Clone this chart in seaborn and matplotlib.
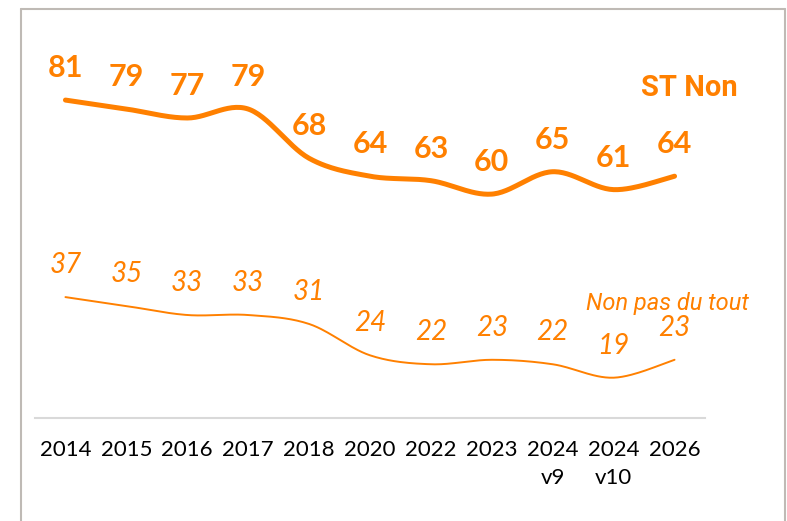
import numpy as np
import pandas as pd
import matplotlib
matplotlib.use("Agg")
import matplotlib.pyplot as plt
import seaborn as sns
from matplotlib.lines import Line2D

years = ["2014", "2015", "2016", "2017", "2018", "2020", "2022", "2023",
         "2024\nv9", "2024\nv10", "2026"]
st_non = [81, 79, 77, 79, 68, 64, 63, 60, 65, 61, 64]
non_pas_du_tout = [37, 35, 33, 33, 31, 24, 22, 23, 22, 19, 23]

ORANGE = "#FF8000"


def smooth(vals, n=30):
    # bezier curve through the points, like excel's "smoothed line"
    pts = np.column_stack([np.arange(len(vals), dtype=float), np.asarray(vals, float)])
    ext = np.vstack([pts[0], pts, pts[-1]])
    t = np.linspace(0, 1, n, endpoint=False)[:, None]
    out = []
    for i in range(len(pts) - 1):
        p0, p1, p2, p3 = ext[i], ext[i + 1], ext[i + 2], ext[i + 3]
        c1 = p1 + (p2 - p0) / 6
        c2 = p2 - (p3 - p1) / 6
        out.append((1 - t) ** 3 * p1 + 3 * (1 - t) ** 2 * t * c1
                   + 3 * (1 - t) * t ** 2 * c2 + t ** 3 * p2)
    out.append(pts[-1][None])
    out = np.vstack(out)
    return pd.DataFrame({"x": out[:, 0], "y": out[:, 1]})


sns.set_theme(style="white")
plt.rcParams["font.family"] = ["Lato", "DejaVu Sans"]

fig = plt.figure(figsize=(7.87, 5.21), dpi=100)
ax = fig.add_axes([35 / 787, 103 / 521, 670 / 787, 403 / 521])

sns.lineplot(data=smooth(st_non), x="x", y="y", sort=False, estimator=None,
             color=ORANGE, linewidth=3.6, ax=ax)
sns.lineplot(data=smooth(non_pas_du_tout), x="x", y="y", sort=False, estimator=None,
             color=ORANGE, linewidth=1.4, ax=ax)

for i, v in enumerate(st_non):
    ax.annotate(str(v), (i, v), xytext=(0, 23), textcoords="offset points",
                ha="center", va="center", color=ORANGE, fontsize=22,
                fontweight="bold", annotation_clip=False)
for i, v in enumerate(non_pas_du_tout):
    ax.annotate(str(v), (i, v), xytext=(0, 23), textcoords="offset points",
                ha="center", va="center", color=ORANGE, fontsize=20,
                fontstyle="italic", annotation_clip=False)

ax.text(10.25, 83.7, "ST Non", ha="center", va="center", color=ORANGE,
        fontsize=21, fontweight="bold", family="Roboto", clip_on=False)
ax.text(9.89, 35.6, "Non pas du tout", ha="center", va="center", color=ORANGE,
        fontsize=17, fontstyle="italic", family="Roboto", clip_on=False)

ax.set_xlim(-0.5, 10.5)
ax.set_ylim(10, 100)
ax.set_xticks(range(len(years)))
ax.set_xticklabels(years, fontsize=16, color="black", linespacing=1.5)
ax.set_yticks([])
ax.set_xlabel("")
ax.set_ylabel("")
ax.tick_params(axis="x", length=0, pad=16)
for s in ["top", "right", "left"]:
    ax.spines[s].set_visible(False)
ax.spines["bottom"].set_color("#d9d9d9")
ax.spines["bottom"].set_linewidth(1.5)
ax.patch.set_alpha(0)

# outer frame
fx0, fx1, fy = 21 / 787, 785 / 787, 1 - 9 / 521
for xs, ys in [([fx0, fx0], [0, fy]), ([fx0, fx1], [fy, fy]), ([fx1, fx1], [fy, 0])]:
    fig.add_artist(Line2D(xs, ys, transform=fig.transFigure, color="#bfbab5", lw=1.5))

fig.savefig("out.png", dpi=100)
